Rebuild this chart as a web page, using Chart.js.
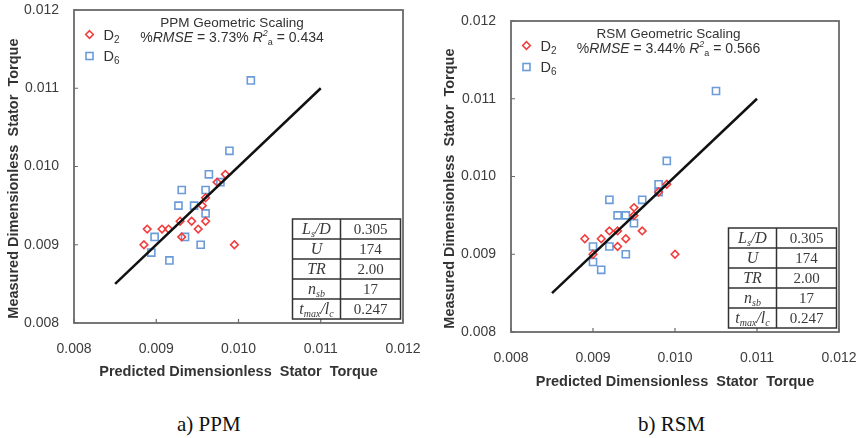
<!DOCTYPE html>
<html>
<head>
<meta charset="utf-8">
<script src="https://cdn.jsdelivr.net/npm/chart.js@4.4.0/dist/chart.umd.min.js"></script>
<style>
  body { margin: 0; background: #fff; width: 859px; height: 438px; position: relative; overflow: hidden; }
  .panel { position: absolute; top: 0; height: 400px; }
  .caption { position: absolute; top: 414px; font-family: "Liberation Serif", serif; font-size: 21px; line-height: 20px; color: #111; }
</style>
</head>
<body>
<div class="panel" style="left:0;width:430px"><canvas id="ppmChart" width="430" height="400"></canvas></div>
<div class="panel" style="left:430px;width:429px"><canvas id="rsmChart" width="429" height="400"></canvas></div>
<div class="caption" style="left:177px">a) PPM</div>
<div class="caption" style="left:638px">b) RSM</div>
<script>
// axis ticks
const axisMin = 0.008;
const axisMax = 0.012;
const axisStep = 0.001;

// PPM panel: predicted (x) vs measured (y)
const ppmD2X = [0.00885, 0.00889, 0.00907, 0.00915, 0.00929, 0.00931, 0.00943, 0.00951, 0.00960, 0.00956, 0.00960, 0.00974, 0.00984, 0.00995];
const ppmD2Y = [0.0090, 0.0092, 0.0092, 0.0092, 0.0093, 0.0091, 0.0093, 0.0092, 0.0093, 0.0095, 0.0096, 0.0098, 0.0099, 0.0090];
const ppmD6X = [0.01015, 0.00989, 0.00964, 0.00978, 0.00931, 0.00960, 0.00927, 0.00946, 0.00960, 0.00898, 0.00935, 0.00954, 0.00894, 0.00916];
const ppmD6Y = [0.0111, 0.0102, 0.0099, 0.0098, 0.0097, 0.0097, 0.0095, 0.0095, 0.0094, 0.0091, 0.0091, 0.0090, 0.0089, 0.0088];

// RSM panel
const rsmD2X = [0.0089, 0.0090, 0.0091, 0.0092, 0.0093, 0.0093, 0.0094, 0.0095, 0.0095, 0.0096, 0.0098, 0.0099, 0.0100];
const rsmD2Y = [0.0092, 0.0090, 0.0092, 0.0093, 0.0093, 0.0091, 0.0092, 0.0096, 0.0095, 0.0093, 0.0098, 0.0099, 0.0090];
const rsmD6X = [0.0105, 0.0099, 0.0098, 0.0098, 0.0096, 0.0092, 0.0093, 0.0094, 0.0095, 0.0090, 0.0092, 0.0094, 0.0090, 0.0091];
const rsmD6Y = [0.0111, 0.0102, 0.0099, 0.0098, 0.0097, 0.0097, 0.0095, 0.0095, 0.0094, 0.0091, 0.0091, 0.0090, 0.0089, 0.0088];

// 1:1 line
const fitX = [0.0085, 0.0110];
const fitY = [0.0085, 0.0110];

// inset table
const tableNames = ['L_s/D', 'U', 'TR', 'n_sb', 't_max/l_c'];
const tableValues = ['0.305', '174', '2.00', '17', '0.247'];

const sans = '"Liberation Sans", Arial, sans-serif';
const serif = '"Liberation Serif", "Times New Roman", serif';
const red = '#f23c3c';
const blue = '#6b9bd9';

function toPoints(xs, ys) {
    return xs.map((x, i) => ({ x: x, y: ys[i] }));
}

function drawRich(ctx, parts, x, y, align) {
    let w = 0;
    parts.forEach(p => { ctx.font = p[1]; w += ctx.measureText(p[0]).width; });
    let cx = align === 'center' ? x - w / 2 : x;
    ctx.textAlign = 'left';
    ctx.textBaseline = 'alphabetic';
    parts.forEach(p => {
        ctx.font = p[1];
        ctx.fillText(p[0], cx, y + (p[2] || 0));
        cx += ctx.measureText(p[0]).width;
    });
}

function diamond(ctx, x, y, r) {
    ctx.beginPath();
    ctx.moveTo(x, y - r);
    ctx.lineTo(x + r, y);
    ctx.lineTo(x, y + r);
    ctx.lineTo(x - r, y);
    ctx.closePath();
    ctx.stroke();
}

const extras = {
    id: 'extras',
    afterDraw(chart, args, opts) {
        const ctx = chart.ctx;
        const a = chart.chartArea;
        const xs = chart.scales.x;
        const ys = chart.scales.y;
        ctx.save();

        // frame and inner ticks
        ctx.strokeStyle = '#6a6a6a';
        ctx.lineWidth = 1.8;
        ctx.strokeRect(a.left, a.top, a.right - a.left, a.bottom - a.top);
        ctx.lineWidth = 1.2;
        ctx.beginPath();
        xs.ticks.forEach(t => {
            const px = xs.getPixelForValue(t.value);
            ctx.moveTo(px, a.bottom);
            ctx.lineTo(px, a.bottom - 4);
        });
        ys.ticks.forEach(t => {
            const py = ys.getPixelForValue(t.value);
            ctx.moveTo(a.left, py);
            ctx.lineTo(a.left + 4, py);
        });
        ctx.stroke();

        // legend
        const lx = a.left + 15.5;
        ctx.lineWidth = 1.6;
        ctx.strokeStyle = red;
        diamond(ctx, lx, a.top + 24.5, 3.8);
        ctx.strokeStyle = blue;
        ctx.strokeRect(lx - 3.5, a.top + 42.5, 7, 7);
        ctx.fillStyle = '#333';
        drawRich(ctx, [['D', '14.5px ' + sans], ['2', '10px ' + sans, 3]], lx + 14, a.top + 29.5, 'left');
        drawRich(ctx, [['D', '14.5px ' + sans], ['6', '10px ' + sans, 3]], lx + 14, a.top + 51, 'left');

        // title
        const cx = (a.left + a.right) / 2 - 6.5;
        ctx.font = '13.5px ' + sans;
        ctx.textAlign = 'center';
        ctx.fillText(opts.title, cx, a.top + 17);
        drawRich(ctx, [
            ['%', '14px ' + sans],
            ['RMSE', 'italic 14px ' + sans],
            [' = ' + opts.rmse + ' ', '14px ' + sans],
            ['R', 'italic 14px ' + sans],
            ['2', 'italic 9px ' + sans, -6],
            ['a', '9px ' + sans, 3],
            [' = ' + opts.r2, '14px ' + sans]
        ], cx, a.top + 32, 'center');

        // inset table
        const tw = 108, th = 100, c1 = 48;
        const tr = a.right - 2.5;
        const tl = tr - tw;
        const tb = a.bottom - 4;
        const tt = tb - th;
        const rh = th / tableNames.length;
        ctx.fillStyle = '#fff';
        ctx.fillRect(tl, tt, tw, th);
        ctx.strokeStyle = '#333';
        ctx.lineWidth = 1.5;
        ctx.strokeRect(tl, tt, tw, th);
        ctx.beginPath();
        ctx.moveTo(tl + c1, tt);
        ctx.lineTo(tl + c1, tb);
        for (let i = 1; i < tableNames.length; i++) {
            ctx.moveTo(tl, tt + i * rh);
            ctx.lineTo(tr, tt + i * rh);
        }
        ctx.stroke();
        ctx.fillStyle = '#3a3a3a';
        tableNames.forEach((name, i) => {
            const by = tt + i * rh + rh / 2 + 5;
            const parts = name.split(/(_[a-z]+)/).filter(s => s.length).map(s =>
                s[0] === '_' ? [s.slice(1), 'italic 10px ' + serif, 3] : [s, 'italic 16px ' + serif]);
            drawRich(ctx, parts, tl + c1 / 2, by, 'center');
            drawRich(ctx, [[tableValues[i], '15px ' + serif]], tl + c1 + (tw - c1) / 2, by, 'center');
        });
        ctx.restore();
    }
};

function makeChart(id, d2x, d2y, d6x, d6y, g, texts) {
    const tickFont = { family: sans, size: 14 };
    const titleFont = { family: sans, size: 14.5, weight: 'bold' };
    return new Chart(document.getElementById(id), {
        type: 'scatter',
        data: {
            datasets: [{
                label: 'fit',
                type: 'line',
                data: toPoints(fitX, fitY),
                borderColor: '#111',
                borderWidth: 2.5,
                pointRadius: 0,
                order: 0
            }, {
                label: 'D2',
                data: toPoints(d2x, d2y),
                pointStyle: 'rectRot',
                pointRadius: 3.8,
                borderColor: red,
                backgroundColor: 'rgba(0,0,0,0)',
                borderWidth: 1.6,
                order: 1
            }, {
                label: 'D6',
                data: toPoints(d6x, d6y),
                pointStyle: 'rect',
                pointRadius: 5,
                borderColor: blue,
                backgroundColor: 'rgba(0,0,0,0)',
                borderWidth: 1.6,
                order: 1
            }]
        },
        options: {
            responsive: false,
            animation: false,
            events: [],
            layout: { padding: { left: 0, right: g.padRight, top: g.padTop, bottom: 0 } },
            plugins: {
                legend: { display: false },
                tooltip: { enabled: false },
                extras: texts
            },
            scales: {
                x: {
                    type: 'linear', min: axisMin, max: axisMax,
                    grid: { display: false },
                    border: { display: false },
                    ticks: { stepSize: axisStep, padding: 10, color: '#3c3c3c', font: tickFont, callback: v => v.toFixed(3) },
                    title: { display: true, text: 'Predicted Dimensionless  Stator  Torque', color: '#333', font: titleFont, padding: { top: g.xTitlePad, bottom: g.xTitlePad } },
                    afterFit: s => { s.height = g.xHeight; s.paddingLeft = 0; s.paddingRight = 0; }
                },
                y: {
                    type: 'linear', min: axisMin, max: axisMax,
                    grid: { display: false },
                    border: { display: false },
                    ticks: { stepSize: axisStep, padding: 7, color: '#3c3c3c', font: tickFont, callback: v => v.toFixed(3) },
                    title: { display: true, text: 'Measured Dimensionless  Stator  Torque      ', color: '#333', font: titleFont, padding: { top: g.yTitlePad, bottom: 0 } },
                    afterFit: s => { s.width = g.yWidth; s.paddingTop = 0; s.paddingBottom = 0; }
                }
            }
        },
        plugins: [extras]
    });
}

makeChart('ppmChart', ppmD2X, ppmD2Y, ppmD6X, ppmD6Y,
    { yWidth: 74, xHeight: 77, padRight: 27, padTop: 10, xTitlePad: 19.6, yTitlePad: 5.3 },
    { title: 'PPM Geometric Scaling', rmse: '3.73%', r2: '0.434' });
makeChart('rsmChart', rsmD2X, rsmD2Y, rsmD6X, rsmD6Y,
    { yWidth: 81, xHeight: 68, padRight: 20, padTop: 21, xTitlePad: 9.6, yTitlePad: 11.3 },
    { title: 'RSM Geometric Scaling', rmse: '3.44%', r2: '0.566' });
</script>
</body>
</html>
